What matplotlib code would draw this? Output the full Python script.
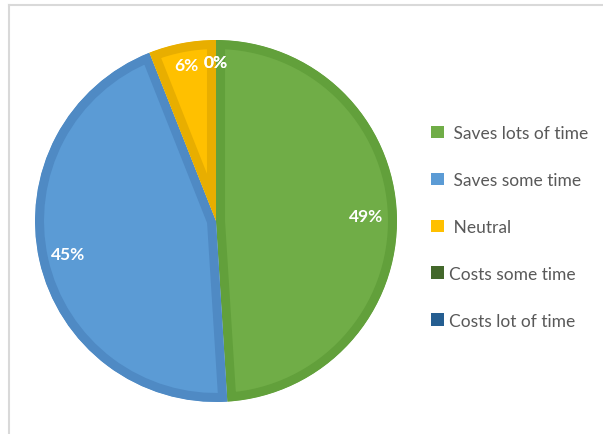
import matplotlib.pyplot as plt
import numpy as np
from matplotlib.patches import Patch
from matplotlib.lines import Line2D

categories = ["Saves lots of time", "Saves some time", "Neutral",
              "Costs some time", "Costs lot of time"]
shares = [49, 45, 6, 0, 0]
fills = ["#70AD47", "#5B9BD5", "#FFC000", "#43682B", "#255E91"]
borders = ["#62A03B", "#4F8AC4", "#E8AE00", "#3A5C25", "#1F5080"]
label_radius = [0.83, 0.84, 0.88, 0.88, 0.88]

W, H = 603, 435
fig = plt.figure(figsize=(W / 100, H / 100), dpi=100)
plt.rcParams['font.family'] = ['Lato', 'DejaVu Sans']

# thin grey frame around the chart area
fig.add_artist(Line2D([8.5 / W, 8.5 / W], [0, 1 - 5.5 / H], color="#D9D9D9",
                      lw=1.5, transform=fig.transFigure))
fig.add_artist(Line2D([8.5 / W, 1], [1 - 5.5 / H, 1 - 5.5 / H], color="#D9D9D9",
                      lw=1.5, transform=fig.transFigure))

cx, cy, r = 216, 222, 181
ax = fig.add_axes([(cx - r) / W, (H - cy - r) / H, 2 * r / W, 2 * r / H])
wedges, _ = ax.pie(shares, colors=fills, startangle=90, counterclock=False,
                   radius=1)
for w, ec, v in zip(wedges, borders, shares):
    w.set_edgecolor(ec)
    w.set_linewidth(13)
    # keep only the inner half of the stroke
    w.set_clip_on(True)
    w.set_clip_path(w)
    w.set_visible(v > 0)
ax.set_xlim(-1, 1)
ax.set_ylim(-1, 1)
ax.set_aspect("auto")
ax.axis("off")

for w, v, rr in zip(wedges, shares, label_radius):
    mid = np.deg2rad((w.theta1 + w.theta2) / 2)
    ax.text(rr * np.cos(mid), rr * np.sin(mid), f"{v}%", color="white",
            fontsize=12.5, fontweight="bold", ha="center", va="center")

handles = [Patch(facecolor=c, edgecolor="none") for c in fills]
labels = [" " + c for c in categories[:3]] + categories[3:]
fig.legend(handles, labels, loc="center left",
           bbox_to_anchor=(415 / W, 1 - 228 / H), frameon=False,
           fontsize=12.5, labelcolor="#595959", handlelength=0.75,
           handleheight=0.75, handletextpad=0.3, labelspacing=1.78)

fig.savefig("out.png", dpi=100)
